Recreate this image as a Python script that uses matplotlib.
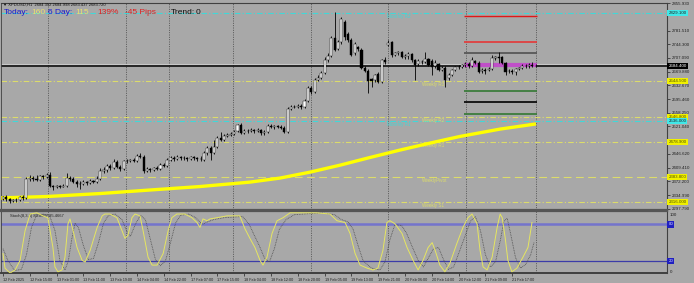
import matplotlib
matplotlib.use("Agg")
import matplotlib.pyplot as plt
import matplotlib.transforms as mtransforms

plt.rcParams['font.family'] = ['Liberation Sans', 'DejaVu Sans']

# ---------------- data ----------------
opens = [2324, 2330, 2324, 2319, 2321, 2322, 2330, 2327, 2378, 2381, 2379, 2376, 2387, 2384, 2389, 2359,
         2357, 2359, 2357, 2359, 2381, 2378, 2370, 2365, 2366, 2370, 2368, 2373, 2370, 2378, 2400, 2403,
         2414, 2408, 2425, 2411, 2406, 2427, 2428, 2430, 2427, 2441, 2438, 2400, 2406, 2403, 2408, 2406,
         2416, 2414, 2430, 2435, 2433, 2438, 2435, 2436, 2433, 2438, 2435, 2433, 2430, 2449, 2463, 2449,
         2465, 2490, 2484, 2495, 2498, 2501, 2509, 2525, 2503, 2509, 2508, 2511, 2509, 2511, 2503, 2506,
         2522, 2520, 2522, 2520, 2517, 2506, 2568, 2574, 2573, 2577, 2574, 2590, 2625, 2615, 2647, 2653,
         2666, 2701, 2712, 2761, 2731, 2750, 2805, 2772, 2756, 2720, 2737, 2729, 2680, 2672, 2650, 2647,
         2664, 2642, 2701, 2742, 2750, 2715, 2720, 2723, 2710, 2712, 2718, 2701, 2691, 2696, 2697, 2704,
         2699, 2685, 2691, 2674, 2680, 2653, 2661, 2674, 2682, 2683, 2688, 2691, 2685, 2699, 2693, 2672,
         2674, 2674, 2677, 2707, 2710, 2710, 2693, 2672, 2671, 2669, 2677, 2680, 2685, 2684, 2688, 2685]
closes = [2330, 2324, 2319, 2321, 2322, 2330, 2327, 2378, 2381, 2378, 2376, 2387, 2384, 2389, 2359, 2357,
          2359, 2357, 2359, 2381, 2378, 2370, 2365, 2366, 2370, 2368, 2373, 2370, 2378, 2400, 2403, 2414,
          2408, 2425, 2411, 2406, 2427, 2428, 2430, 2427, 2441, 2438, 2400, 2406, 2403, 2408, 2406, 2416,
          2414, 2430, 2435, 2433, 2438, 2435, 2436, 2433, 2438, 2435, 2433, 2432, 2449, 2463, 2449, 2465,
          2490, 2484, 2495, 2498, 2501, 2506, 2525, 2503, 2509, 2508, 2511, 2509, 2511, 2503, 2506, 2522,
          2520, 2522, 2520, 2517, 2506, 2568, 2574, 2573, 2577, 2574, 2590, 2625, 2615, 2647, 2653, 2666,
          2701, 2712, 2761, 2729, 2750, 2813, 2764, 2756, 2715, 2745, 2731, 2680, 2672, 2645, 2645, 2661,
          2642, 2701, 2696, 2748, 2715, 2720, 2723, 2710, 2712, 2718, 2701, 2688, 2699, 2697, 2704, 2688,
          2682, 2693, 2674, 2680, 2647, 2661, 2674, 2682, 2683, 2688, 2691, 2685, 2701, 2693, 2669, 2674,
          2672, 2677, 2707, 2710, 2707, 2693, 2669, 2671, 2669, 2677, 2680, 2685, 2684, 2688, 2685, 2684]
highs = [2332, 2335, 2327, 2324, 2327, 2332, 2335, 2384, 2389, 2387, 2389, 2389, 2389, 2395, 2397, 2362,
         2362, 2362, 2365, 2395, 2387, 2384, 2376, 2373, 2376, 2373, 2378, 2376, 2387, 2408, 2411, 2419,
         2419, 2433, 2430, 2416, 2430, 2433, 2433, 2435, 2446, 2449, 2444, 2411, 2408, 2411, 2414, 2422,
         2422, 2435, 2441, 2441, 2444, 2441, 2441, 2438, 2441, 2441, 2438, 2441, 2454, 2468, 2468, 2484,
         2495, 2506, 2501, 2503, 2506, 2511, 2528, 2530, 2514, 2514, 2517, 2514, 2517, 2514, 2511, 2528,
         2528, 2525, 2525, 2525, 2522, 2574, 2579, 2579, 2582, 2582, 2596, 2631, 2631, 2653, 2661, 2672,
         2710, 2720, 2767, 2832, 2756, 2818, 2810, 2778, 2761, 2750, 2740, 2734, 2685, 2677, 2653, 2664,
         2669, 2704, 2710, 2756, 2753, 2723, 2726, 2726, 2718, 2723, 2720, 2704, 2704, 2701, 2723, 2707,
         2704, 2701, 2693, 2685, 2685, 2666, 2677, 2685, 2688, 2691, 2696, 2696, 2710, 2701, 2699, 2680,
         2680, 2682, 2715, 2712, 2723, 2712, 2696, 2677, 2677, 2680, 2682, 2691, 2691, 2693, 2696, 2691]
lows = [2321, 2319, 2313, 2316, 2316, 2319, 2321, 2324, 2373, 2373, 2373, 2373, 2378, 2381, 2357, 2349,
        2354, 2354, 2356, 2357, 2373, 2368, 2357, 2351, 2362, 2362, 2365, 2368, 2368, 2376, 2395, 2397,
        2403, 2406, 2408, 2400, 2403, 2422, 2425, 2425, 2425, 2435, 2395, 2397, 2397, 2400, 2403, 2403,
        2411, 2411, 2427, 2427, 2430, 2430, 2430, 2427, 2430, 2430, 2427, 2427, 2427, 2444, 2430, 2446,
        2463, 2482, 2482, 2492, 2495, 2498, 2506, 2501, 2501, 2503, 2506, 2503, 2506, 2498, 2498, 2503,
        2517, 2514, 2517, 2514, 2503, 2503, 2566, 2571, 2571, 2568, 2571, 2587, 2609, 2612, 2644, 2650,
        2663, 2696, 2710, 2726, 2729, 2745, 2756, 2750, 2712, 2715, 2726, 2677, 2669, 2612, 2628, 2642,
        2639, 2639, 2691, 2740, 2710, 2712, 2715, 2707, 2704, 2704, 2696, 2647, 2685, 2691, 2693, 2685,
        2661, 2680, 2672, 2672, 2628, 2647, 2658, 2672, 2677, 2680, 2682, 2680, 2682, 2691, 2666, 2666,
        2663, 2672, 2674, 2701, 2693, 2691, 2661, 2666, 2663, 2661, 2674, 2677, 2680, 2680, 2682, 2682]

ma_pos = [-1, 13.4, 29.0, 43.9, 58.8, 73.7, 82.7, 91.6, 100.6, 109.6, 118.5, 127.5, 136.4, 148.4, 159.1]
ma_val = [2327, 2331, 2339, 2348.6, 2358, 2370, 2381, 2397, 2416, 2437, 2457, 2476, 2494, 2514, 2528]

stoch_main_pos = [0, 0.6, 2.1, 3.6, 5.1, 6.6, 8.1, 10.1, 11.9, 13.4, 14.9, 15.5, 16.4, 17.6, 18.5, 19.4,
                  20.0, 20.9, 22.1, 23.6, 24.5, 26.0, 28.1, 29.6, 30.4, 31.9, 34.0, 35.5, 36.4, 37.3, 38.5,
                  39.4, 40.9, 41.8, 43.3, 44.5, 46.0, 47.8, 49.3, 50.4, 51.9, 54.3, 56.4, 57.9, 58.8, 59.7,
                  60.9, 61.8, 63.9, 66.9, 70.7, 72.2, 73.7, 75.2, 76.7, 77.6, 78.8, 80.3, 81.8, 83.6, 85.7,
                  93.7, 97.6, 99.7, 102.1, 103.6, 105.1, 106.6, 108.7, 110.4, 111.9, 113.4, 114.6, 115.5,
                  117.0, 119.1, 120.6, 122.4, 123.9, 125.4, 126.9, 128.1, 129.0, 130.4, 131.9, 133.4, 135.5,
                  137.3, 138.8, 140.0, 141.5, 142.4, 143.3, 144.5, 146.0, 147.5, 148.4, 149.0, 149.9, 150.7,
                  151.9, 153.4, 155.2, 156.7, 157.9]
stoch_main_val = [32, 8, 0, 5, 21, 70, 97, 99, 94, 91, 42, 10, 2, 5, 26, 81,
                  89, 70, 42, 21, 18, 37, 75, 94, 97, 97, 91, 70, 57, 62, 91,
                  97, 94, 70, 26, 13, 13, 32, 70, 91, 97, 97, 91, 83, 75, 89,
                  86, 89, 91, 94, 94, 73, 57, 42, 21, 13, 26, 65, 86, 91, 99,
                  99, 97, 86, 83, 65, 32, 13, 8, 5, 8, 37, 83, 86,
                  81, 65, 42, 21, 5, 21, 42, 50, 37, 13, 2, 16, 49,
                  75, 91, 97, 81, 37, 10, 5, 26, 75, 97, 91, 58, 21,
                  2, 8, 26, 42, 83]
stoch_sig_pos = [0, 1.5, 3.5, 5.5, 7, 8.5, 10, 12, 14, 15.5, 17, 18.5, 19.5, 20.5, 21.5, 22.5, 24, 25.5,
                 27, 28.5, 30, 31.5, 33.5, 35.5, 37, 38, 39.5, 41, 42.5, 44, 45.5, 47, 48.5, 50, 51.5, 53,
                 55.5, 57.5, 59.5, 61, 63, 66, 71.5, 73.5, 75, 76.5, 78, 79.5, 81, 82.5, 84.5, 87, 95, 99,
                 101, 103, 104.5, 106, 107.5, 110, 112.5, 114, 115.5, 117, 119, 120.5, 122, 124, 125.5,
                 127, 128.5, 130, 131.5, 133, 134.5, 136, 138, 139.5, 141, 142.5, 144, 145.5, 147, 148.5,
                 149.5, 150.5, 151.5, 153, 154.5, 156, 157.5, 158.5]
stoch_sig_val = [40, 20, 4, 6, 30, 75, 95, 97, 93, 70, 20, 5, 20, 55, 82, 75, 45, 22,
                 24, 50, 82, 95, 97, 88, 68, 60, 80, 95, 88, 55, 22, 12, 20, 50, 82, 95,
                 97, 91, 80, 84, 88, 91, 93, 80, 62, 45, 25, 18, 40, 72, 88, 96, 99, 96,
                 88, 84, 72, 45, 20, 8, 5, 18, 55, 80, 78, 65, 45, 20, 10,
                 25, 40, 42, 22, 6, 10, 32, 62, 85, 93, 70, 30, 10, 18, 55,
                 85, 90, 65, 25, 8, 14, 30, 50]

level_names = ["Monthly R2", "Weekly R3", "Weekly R2", "Monthly R1", "Weekly R1", "WeeklyPivot", "Weekly S1"]
level_prices = [2829.1, 2644.5, 2546.8, 2536.0, 2478.9, 2383.8, 2316.0]
level_kind = ["monthly", "weekly", "weekly", "monthly", "weekly", "pivot", "weekly"]

target_prices = [2821.0, 2750.4, 2720.5, 2687.9, 2617.3, 2587.5, 2555.0]
target_colors = ['#e01818', '#e04040', '#585858', '#c050c8', '#3c7c3c', '#000000', '#3c7c3c']
target_widths = [1.0, 1.3, 1.3, 3.0, 1.3, 1.2, 1.3]

bid_price = 2684.4
ask_price = 2690.6

price_ticks = [2297.790, 2334.990, 2372.200, 2409.410, 2446.620, 2521.040, 2558.250, 2595.460,
               2632.670, 2669.880, 2707.090, 2744.300, 2781.510, 2855.930]

time_pos = [0, 8, 16, 24, 32, 40, 48, 56, 64, 72, 80, 88, 96, 104, 112, 120, 128, 136, 144, 152]
time_labels = ["12 Feb 2025", "12 Feb 15:00", "13 Feb 01:00", "13 Feb 11:00", "13 Feb 19:00",
               "14 Feb 04:00", "14 Feb 22:00", "17 Feb 07:00", "17 Feb 15:00", "18 Feb 04:00",
               "18 Feb 12:00", "18 Feb 20:00", "19 Feb 05:00", "19 Feb 13:00", "19 Feb 21:00",
               "20 Feb 06:00", "20 Feb 14:00", "20 Feb 12:00", "21 Feb 09:00", "21 Feb 17:00"]

grid_pos = [13.4, 36.7, 49.6, 68.7, 91.9, 114.9, 138.2, 159.1]

# ---------------- figure ----------------
W, H = 694, 283
BG = '#a8a8a8'
fig = plt.figure(figsize=(W / 100, H / 100), dpi=100, facecolor=BG)

def fx(px):
    return px / W

def fy(py):
    return 1 - py / H

ax = fig.add_axes([fx(1), fy(210), fx(666), 207 / H], facecolor=BG)
ax2 = fig.add_axes([fx(1), fy(273), fx(666), 62 / H], facecolor=BG, sharex=ax)

XMIN, XMAX = -0.6, 198.2
ax.set_xlim(XMIN, XMAX)
ax.set_ylim(2294.3, 2856.3)
ax2.set_ylim(0, 102)

for a in (ax, ax2):
    for s in a.spines.values():
        s.set_color('#404040')
        s.set_linewidth(0.8)
    a.spines['left'].set_linewidth(0.6)
ax.spines['bottom'].set_linewidth(1.6)
ax.spines['bottom'].set_color('#555555')
ax2.spines['top'].set_linewidth(1.6)
ax2.spines['top'].set_color('#555555')
ax2.spines['bottom'].set_linewidth(1.4)

# vertical grid
for g in grid_pos:
    ax.axvline(g, color='#4a4a4a', lw=0.6, ls=(0, (1.2, 1.6)), zorder=1)
    ax2.axvline(g, color='#4a4a4a', lw=0.6, ls=(0, (1.2, 1.6)), zorder=1)

# pivot lines
lv_col = {"monthly": '#40d8d8', "weekly": '#dcdc6a', "pivot": '#dcdc6a'}
lv_ls = {"monthly": (0, (5, 2, 1, 2)), "weekly": (0, (5, 2, 1, 2)), "pivot": (0, (7, 4))}
for name, p, k in zip(level_names, level_prices, level_kind):
    ax.axhline(p, color=lv_col[k], lw=0.8, ls=lv_ls[k], zorder=1.5)
    lx = 114.6 if k == "monthly" else 125.0
    ax.text(lx, p - 3, name, color=lv_col[k], fontsize=3.3, va='top', ha='left', zorder=2)

# bid / ask lines
ax.axhline(ask_price, color='#c8c8c8', lw=0.8, zorder=1.6)
ax.axhline(bid_price, color='#101010', lw=1.2, zorder=1.7)

# target lines on the right
for p, c, w in zip(target_prices, target_colors, target_widths):
    ax.hlines(p, 137.5, 159.5, color=c, lw=w, zorder=2)

# moving average
ax.plot(ma_pos, ma_val, color='#ffff00', lw=2.4, zorder=3, solid_capstyle='butt', solid_joinstyle='round')

# candles
for i, (o, h, l, c) in enumerate(zip(opens, highs, lows, closes)):
    ax.vlines(i, l, h, color='#000000', lw=0.6, zorder=4)
    bottom = min(o, c)
    height = max(abs(c - o), 0.9)
    if c >= o:
        ax.bar(i, height, 0.62, bottom=bottom, color='#ffffff', edgecolor='#000000', lw=0.3, zorder=5)
    else:
        ax.bar(i, height, 0.62, bottom=bottom, color='#000000', edgecolor='#000000', lw=0.3, zorder=5)

# right price axis
ax.yaxis.tick_right()
ax.set_yticks(price_ticks)
ax.set_yticklabels(['%.3f' % t for t in price_ticks])
ax.tick_params(axis='y', labelsize=3.2, length=2, width=0.5, pad=1.5, colors='#202020')
ax.tick_params(axis='x', bottom=False, labelbottom=False)

trans = mtransforms.blended_transform_factory(ax.transAxes, ax.transData)
box_specs = [(level_prices[0], '#40e8e8', '#202020'),
             (bid_price, '#000000', '#ffffff'),
             (level_prices[1], '#f0f000', '#505000'),
             (level_prices[2], '#f0f000', '#505000'),
             (level_prices[3], '#40e8e8', '#202020'),
             (level_prices[4], '#f0f000', '#505000'),
             (level_prices[5], '#f0f000', '#505000'),
             (level_prices[6], '#f0f000', '#505000')]
for p, fc, tc in box_specs:
    ax.text(1.002, p, '%.3f' % p, transform=trans, fontsize=3.2, color=tc, va='center', ha='left',
            bbox=dict(boxstyle='square,pad=0.25', fc=fc, ec='none'), zorder=6, clip_on=False)

# stochastic
ax2.axhline(80, color='#7474cc', lw=1.8, zorder=1.5)
ax2.axhline(20, color='#3c3ca8', lw=0.9, zorder=1.5)
ax2.plot(stoch_sig_pos, stoch_sig_val, color='#505050', lw=0.6, ls=(0, (1, 1)), zorder=3)
ax2.plot(stoch_main_pos, stoch_main_val, color='#e6e660', lw=0.7, zorder=4)
ax2.text(2, 97, 'Stoch(8,3,3) 83.8037 85.4667', fontsize=3.0, color='#202020', va='top', ha='left')

ax2.yaxis.tick_right()
ax2.set_yticks([])
trans2 = mtransforms.blended_transform_factory(ax2.transAxes, ax2.transData)
ax2.text(1.004, 96, '100', transform=trans2, fontsize=3.2, color='#202020', va='center', clip_on=False)
ax2.text(1.004, 2, '0', transform=trans2, fontsize=3.2, color='#202020', va='center', clip_on=False)
for v in (80, 20):
    ax2.text(1.002, v, str(v), transform=trans2, fontsize=3.2, color='#d0d0ff', va='center', ha='left',
             bbox=dict(boxstyle='square,pad=0.3', fc='#2020c0', ec='none'), clip_on=False)

ax2.set_xticks(time_pos)
ax2.set_xticklabels(time_labels, ha='left')
ax2.tick_params(axis='x', labelsize=2.7, length=2.5, width=0.5, pad=1, colors='#202020')
for lbl in ax2.get_xticklabels():
    lbl.set_x(lbl.get_position()[0])
ax2.set_xlim(XMIN, XMAX)

# header
fig.text(fx(3), fy(4.5), '\u25bc XPDUSD,H1  2684.352 2684.998 2683.437 2683.720', fontsize=3.0,
         color='#101010', va='center', ha='left')
hdr = [(4, 'Today:', '#1a1ad0'), (31, '160', '#e8e070'), (48, '6 Day:', '#1a1ad0'),
       (75, '115', '#e8e070'), (97, '139%', '#e02020'), (125, '-45 Pips', '#e02020'),
       (171, 'Trend:', '#101010'), (196, '0', '#101010')]
for x, t, c in hdr:
    fig.text(fx(x), fy(12), t, fontsize=6.0, color=c, va='center', ha='left')

fig.savefig('out.png', dpi=100, facecolor=BG)
